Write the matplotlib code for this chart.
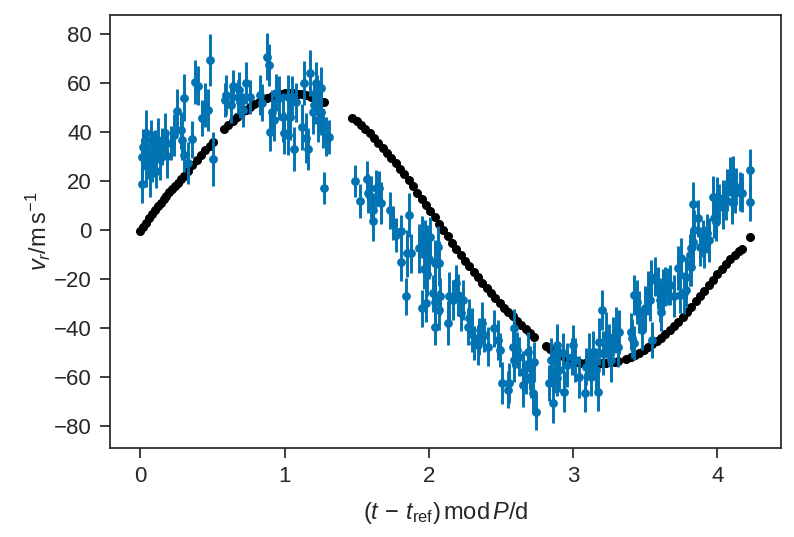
import numpy as np
import matplotlib
matplotlib.use("Agg")
import matplotlib.pyplot as plt
import seaborn as sns

# model curve (black dots)
mod_x = [0.00, 0.02, 0.04, 0.06, 0.08, 0.10, 0.12, 0.14, 0.16, 0.18,
         0.20, 0.22, 0.24, 0.26, 0.28, 0.30, 0.33, 0.36, 0.39, 0.42,
         0.45, 0.48, 0.50, 0.58, 0.61, 0.64, 0.67, 0.70, 0.73, 0.76,
         0.79, 0.82, 0.85, 0.88, 0.91, 0.94, 0.97, 1.00, 1.03, 1.06,
         1.09, 1.12, 1.15, 1.18, 1.21, 1.24, 1.27, 1.47, 1.50, 1.53,
         1.56, 1.59, 1.62, 1.65, 1.68, 1.71, 1.74, 1.77, 1.80, 1.83,
         1.86, 1.89, 1.92, 1.95, 1.98, 2.01, 2.04, 2.07, 2.10, 2.13,
         2.16, 2.19, 2.22, 2.25, 2.28, 2.31, 2.34, 2.37, 2.40, 2.43,
         2.46, 2.49, 2.52, 2.55, 2.58, 2.61, 2.64, 2.67, 2.70, 2.73,
         2.81, 2.84, 2.87, 2.90, 2.93, 2.96, 2.99, 3.02, 3.05, 3.08,
         3.11, 3.14, 3.17, 3.20, 3.23, 3.26, 3.29, 3.31, 3.37, 3.40,
         3.43, 3.46, 3.49, 3.52, 3.55, 3.58, 3.61, 3.64, 3.67, 3.70,
         3.73, 3.76, 3.79, 3.82, 3.85, 3.88, 3.91, 3.94, 3.97, 4.00,
         4.03, 4.06, 4.09, 4.12, 4.15, 4.17, 4.23]
mod_y = [-0.5, 1.2, 3.0, 4.8, 6.6, 8.2, 9.8, 11.2, 12.6, 14.0,
         15.4, 16.8, 18.0, 19.3, 20.6, 22.0, 24.2, 26.4, 28.5, 30.5,
         32.4, 34.4, 35.8, 41.0, 42.8, 44.6, 46.2, 47.6, 49.0, 50.2,
         51.3, 52.3, 53.2, 53.9, 54.5, 55.0, 55.4, 55.7, 55.8, 55.8,
         55.6, 55.3, 54.9, 54.3, 53.7, 52.9, 52.1, 45.5, 44.3, 42.8,
         41.2, 39.4, 37.6, 35.6, 33.6, 31.5, 29.4, 27.2, 25.0, 22.7,
         20.4, 17.8, 15.2, 12.8, 10.2, 7.7, 5.2, 2.6, 0.0, -2.6,
         -5.2, -7.7, -10.1, -12.5, -14.8, -17.0, -19.3, -21.5, -23.7, -25.8,
         -27.8, -29.8, -31.7, -33.5, -35.2, -36.9, -38.6, -40.3, -42.0, -43.5,
         -47.3, -48.4, -49.5, -50.6, -51.5, -52.3, -53.0, -53.6, -54.0, -54.3,
         -54.5, -54.5, -54.4, -54.2, -54.0, -53.8, -53.6, -53.4, -52.6, -51.9,
         -51.0, -50.0, -48.9, -47.8, -46.6, -45.3, -43.9, -42.4, -40.8, -39.1,
         -37.3, -35.4, -33.4, -31.3, -29.1, -26.9, -24.7, -22.5, -20.3, -18.1,
         -15.9, -13.8, -11.8, -10.0, -8.6, -7.8, -2.8]

# measured radial velocities (blue)
obs_x = [0.01, 0.01, 0.02, 0.035, 0.04, 0.055, 0.065, 0.07, 0.08, 0.09,
         0.10, 0.11, 0.125, 0.135, 0.15, 0.17, 0.185, 0.21, 0.23, 0.255,
         0.28, 0.29, 0.30, 0.30, 0.33, 0.36, 0.38, 0.40, 0.43, 0.45,
         0.47, 0.48, 0.50, 0.585, 0.59, 0.63, 0.645, 0.675, 0.68, 0.69,
         0.71, 0.73, 0.76, 0.83, 0.845, 0.88, 0.89, 0.90, 0.915, 0.925,
         0.94, 0.96, 0.985, 0.995, 1.02, 1.025, 1.04, 1.05, 1.065, 1.08,
         1.12, 1.135, 1.145, 1.16, 1.175, 1.195, 1.20, 1.215, 1.225, 1.23,
         1.25, 1.25, 1.265, 1.27, 1.285, 1.31,
         1.485, 1.52, 1.57, 1.575, 1.60, 1.61, 1.61, 1.63, 1.655, 1.67,
         1.73, 1.75, 1.77, 1.805, 1.81, 1.84, 1.85, 1.86, 1.875, 1.93,
         1.955, 1.955, 1.965, 1.97, 1.98, 1.99, 1.99, 2.00, 2.01, 2.03,
         2.04, 2.04, 2.04, 2.06, 2.07, 2.07, 2.08, 2.13, 2.14,
         2.165, 2.19, 2.20, 2.22, 2.24, 2.27, 2.28, 2.30, 2.31, 2.34,
         2.35, 2.37, 2.38, 2.41, 2.45, 2.48, 2.49, 2.51, 2.55, 2.555,
         2.58, 2.59, 2.59, 2.61, 2.625, 2.65, 2.65, 2.67, 2.69, 2.70,
         2.71, 2.72, 2.73, 2.74, 2.83, 2.85, 2.86, 2.87, 2.89, 2.89,
         2.89, 2.90, 2.93, 2.94, 2.96, 2.99, 3.00, 3.01, 3.04, 3.08,
         3.09, 3.11, 3.125, 3.14, 3.16, 3.17, 3.18, 3.20, 3.205, 3.23,
         3.25, 3.26, 3.275, 3.30, 3.31, 3.32, 3.40, 3.41, 3.425, 3.425,
         3.44, 3.46, 3.48, 3.50, 3.52, 3.53, 3.54, 3.55, 3.565, 3.59,
         3.60, 3.61, 3.62, 3.64, 3.66,
         3.67, 3.70, 3.73, 3.74, 3.75, 3.77, 3.785, 3.78, 3.81, 3.81,
         3.82, 3.82, 3.83, 3.83, 3.84, 3.865, 3.88, 3.90, 3.91, 3.93,
         3.945, 3.97, 3.975, 3.99, 3.99, 4.00, 4.015, 4.04, 4.04, 4.06,
         4.07, 4.09, 4.10, 4.11, 4.12, 4.13, 4.155, 4.17, 4.23, 4.23]
obs_y = [18.7, 29.6, 34.0, 39.5, 26.0, 28.5, 22.4, 36.7, 27.0, 31.0,
         32.6, 24.0, 36.7, 29.0, 34.0, 39.5, 30.0, 35.4, 38.7, 48.5,
         40.7, 36.7, 53.9, 30.5, 27.3, 37.0, 60.3, 58.8, 45.6, 51.0,
         49.0, 69.2, 29.0, 53.0, 55.0, 51.0, 58.7, 54.3, 57.0, 52.0,
         49.0, 60.0, 54.3, 55.0, 51.9, 70.6, 67.2, 40.0, 48.2, 44.8,
         56.0, 53.7, 46.0, 39.5, 54.3, 38.7, 46.0, 54.3, 33.0, 52.0,
         42.0, 60.0, 37.5, 33.0, 64.0, 48.2, 51.0, 60.0, 55.0, 45.0,
         57.8, 48.2, 41.5, 17.0, 38.0, 37.8,
         20.0, 11.8, 20.6, 15.0, 13.6, 8.0, 3.7, 17.0, 17.0, 11.0,
         8.0, 2.8, -2.0, -12.9, -0.4, -27.0, -9.5, 6.0, -9.5, -7.5,
         -2.7, -31.9, -16.0, -5.0, -29.8, -8.0, -18.0, -12.0, -3.0, -25.8,
         -13.6, -29.2, -39.4, -6.8, -13.6, -32.6, -27.0, -38.0, -27.0,
         -28.5, -21.6, -26.5, -34.0, -28.5, -39.4, -36.0, -40.7, -46.0, -46.8,
         -43.5, -38.0, -42.8, -47.5, -40.0, -44.8, -48.9, -62.3, -65.0, -62.3,
         -47.5, -40.0, -53.0, -48.9, -51.6, -57.7, -63.0, -59.8, -49.6, -56.3,
         -61.0, -66.4, -53.6, -74.0, -62.3, -53.0, -70.5, -57.7, -60.3, -48.9,
         -46.8, -57.0, -50.0, -65.8, -55.0, -51.6, -46.8, -53.0, -59.8, -66.3,
         -55.7, -51.0, -59.8, -49.6, -57.0, -65.8, -45.5, -32.6, -50.2, -42.8,
         -46.8, -53.0, -43.5, -40.7, -47.5, -41.4, -41.4, -44.1, -46.1, -26.5,
         -29.2, -33.3, -40.7, -31.9, -25.8, -28.5, -20.4, -44.8, -19.0, -23.7,
         -28.5, -33.3, -24.4, -23.0, -23.0,
         -22.4, -27.0, -15.5, -26.5, -11.4, -25.8, -24.4, -19.0, -13.6, -10.2,
         -7.3, -15.0, 10.6, -4.8, 0.0, 4.8, -6.8, -3.4, -6.8, -1.4,
         -4.0, 13.6, 4.8, 7.5, 3.4, 12.9, 10.9, 9.5, 12.9, 12.2,
         16.3, 21.7, 11.5, 21.7, 15.0, 17.6, 15.6, 15.2, 24.4, 11.3]
obs_err = [7.5, 8.0, 7.0, 9.5, 8.5, 7.0, 9.0, 8.0, 7.5, 9.5,
           8.0, 7.0, 9.0, 8.5, 7.5, 8.0, 9.0, 7.0, 8.5, 9.0,
           7.5, 8.0, 9.5, 7.0, 8.5, 7.5, 9.0, 8.0, 7.5, 9.0,
           8.5, 10.5, 11.0, 7.0, 8.0, 7.5, 6.5, 7.0, 7.5, 6.5,
           7.0, 8.5, 7.0, 8.0, 7.5, 9.5, 8.5, 8.0, 9.0, 8.5,
           7.5, 9.0, 10.0, 8.5, 9.0, 8.0, 9.5, 8.5, 9.0, 8.0,
           9.5, 9.0, 10.0, 8.5, 9.5, 9.0, 8.0, 8.5, 8.0, 9.0,
           8.5, 9.5, 8.0, 6.5, 8.0, 7.0,
           6.5, 7.0, 7.5, 8.0, 8.5, 7.0, 8.0, 7.5, 7.0, 8.5,
           7.5, 7.0, 7.0, 8.0, 6.5, 7.5, 9.5, 9.0, 8.0, 10.0,
           8.5, 7.5, 8.0, 9.0, 7.5, 10.0, 9.0, 8.0, 8.5, 7.5,
           9.5, 8.0, 7.5, 8.5, 9.0, 8.0, 7.5, 9.0, 10.0,
           8.0, 7.5, 8.5, 7.0, 8.0, 7.5, 8.0, 9.0, 7.0, 8.0,
           7.5, 8.5, 7.0, 8.0, 7.5, 8.0, 7.0, 8.5, 7.5, 8.0,
           8.5, 8.0, 9.0, 7.5, 8.0, 8.5, 9.0, 7.0, 8.0, 9.0,
           7.5, 8.5, 8.0, 7.5, 7.5, 9.0, 8.0, 8.5, 7.5, 9.0,
           8.5, 9.0, 8.0, 8.5, 9.0, 7.5, 8.0, 9.0, 8.5, 8.0,
           7.5, 9.0, 8.0, 8.5, 9.0, 8.0, 9.5, 8.0, 9.0, 9.5,
           8.5, 9.0, 8.0, 9.5, 8.5, 9.0, 7.5, 8.0, 7.0, 8.0,
           9.0, 8.5, 8.0, 9.0, 9.0, 8.5, 8.0, 7.5, 8.0, 8.5,
           9.0, 8.0, 8.5, 8.0, 7.5,
           8.0, 8.5, 9.0, 7.5, 8.0, 8.5, 7.0, 8.0, 9.0, 8.5,
           7.5, 8.0, 9.0, 8.5, 8.0, 7.5, 8.0, 7.5, 8.5, 8.0,
           9.0, 8.5, 8.0, 7.5, 8.0, 8.5, 8.0, 9.0, 7.5, 8.0,
           8.5, 8.0, 9.0, 8.5, 8.0, 7.5, 8.0, 8.0, 8.5, 7.5]

sns.set_theme(style="ticks")
plt.rcParams['font.family'] = ['Liberation Sans', 'DejaVu Sans']
plt.rcParams['mathtext.fontset'] = 'custom'
plt.rcParams['mathtext.rm'] = 'Liberation Sans'
plt.rcParams['mathtext.it'] = 'Liberation Sans:italic'
plt.rcParams['mathtext.bf'] = 'Liberation Sans:bold'

fig = plt.figure(figsize=(7.94, 5.37), dpi=100)
ax = fig.add_axes([0.1385, 0.1657, 0.8451, 0.8064])

ax.plot(mod_x, mod_y, 'o', color='black', ms=5.5, zorder=2)
ax.errorbar(obs_x, obs_y, yerr=obs_err, fmt='o', color='#0173b2',
            ms=5.3, elinewidth=2.1, capsize=0, zorder=3)

ax.set_ylim(-88.8, 87.6)
ax.set_yticks(np.arange(-80, 81, 20))
ax.set_xticks([0, 1, 2, 3, 4])
ax.tick_params(labelsize=16, width=1.25, length=7, pad=6, colors='#262626')
for s in ax.spines.values():
    s.set_linewidth(1.25)
    s.set_color('#262626')

ax.set_xlabel(r'$(t\,-\,t_\mathrm{ref})\,\mathrm{mod}\,P/\mathrm{d}$', fontsize=17,
              color='#262626', labelpad=9)
ax.set_ylabel(r'$v_r/\mathrm{m\,s^{-1}}$', fontsize=17, color='#262626', labelpad=1)

fig.savefig('out.png', dpi=100)
